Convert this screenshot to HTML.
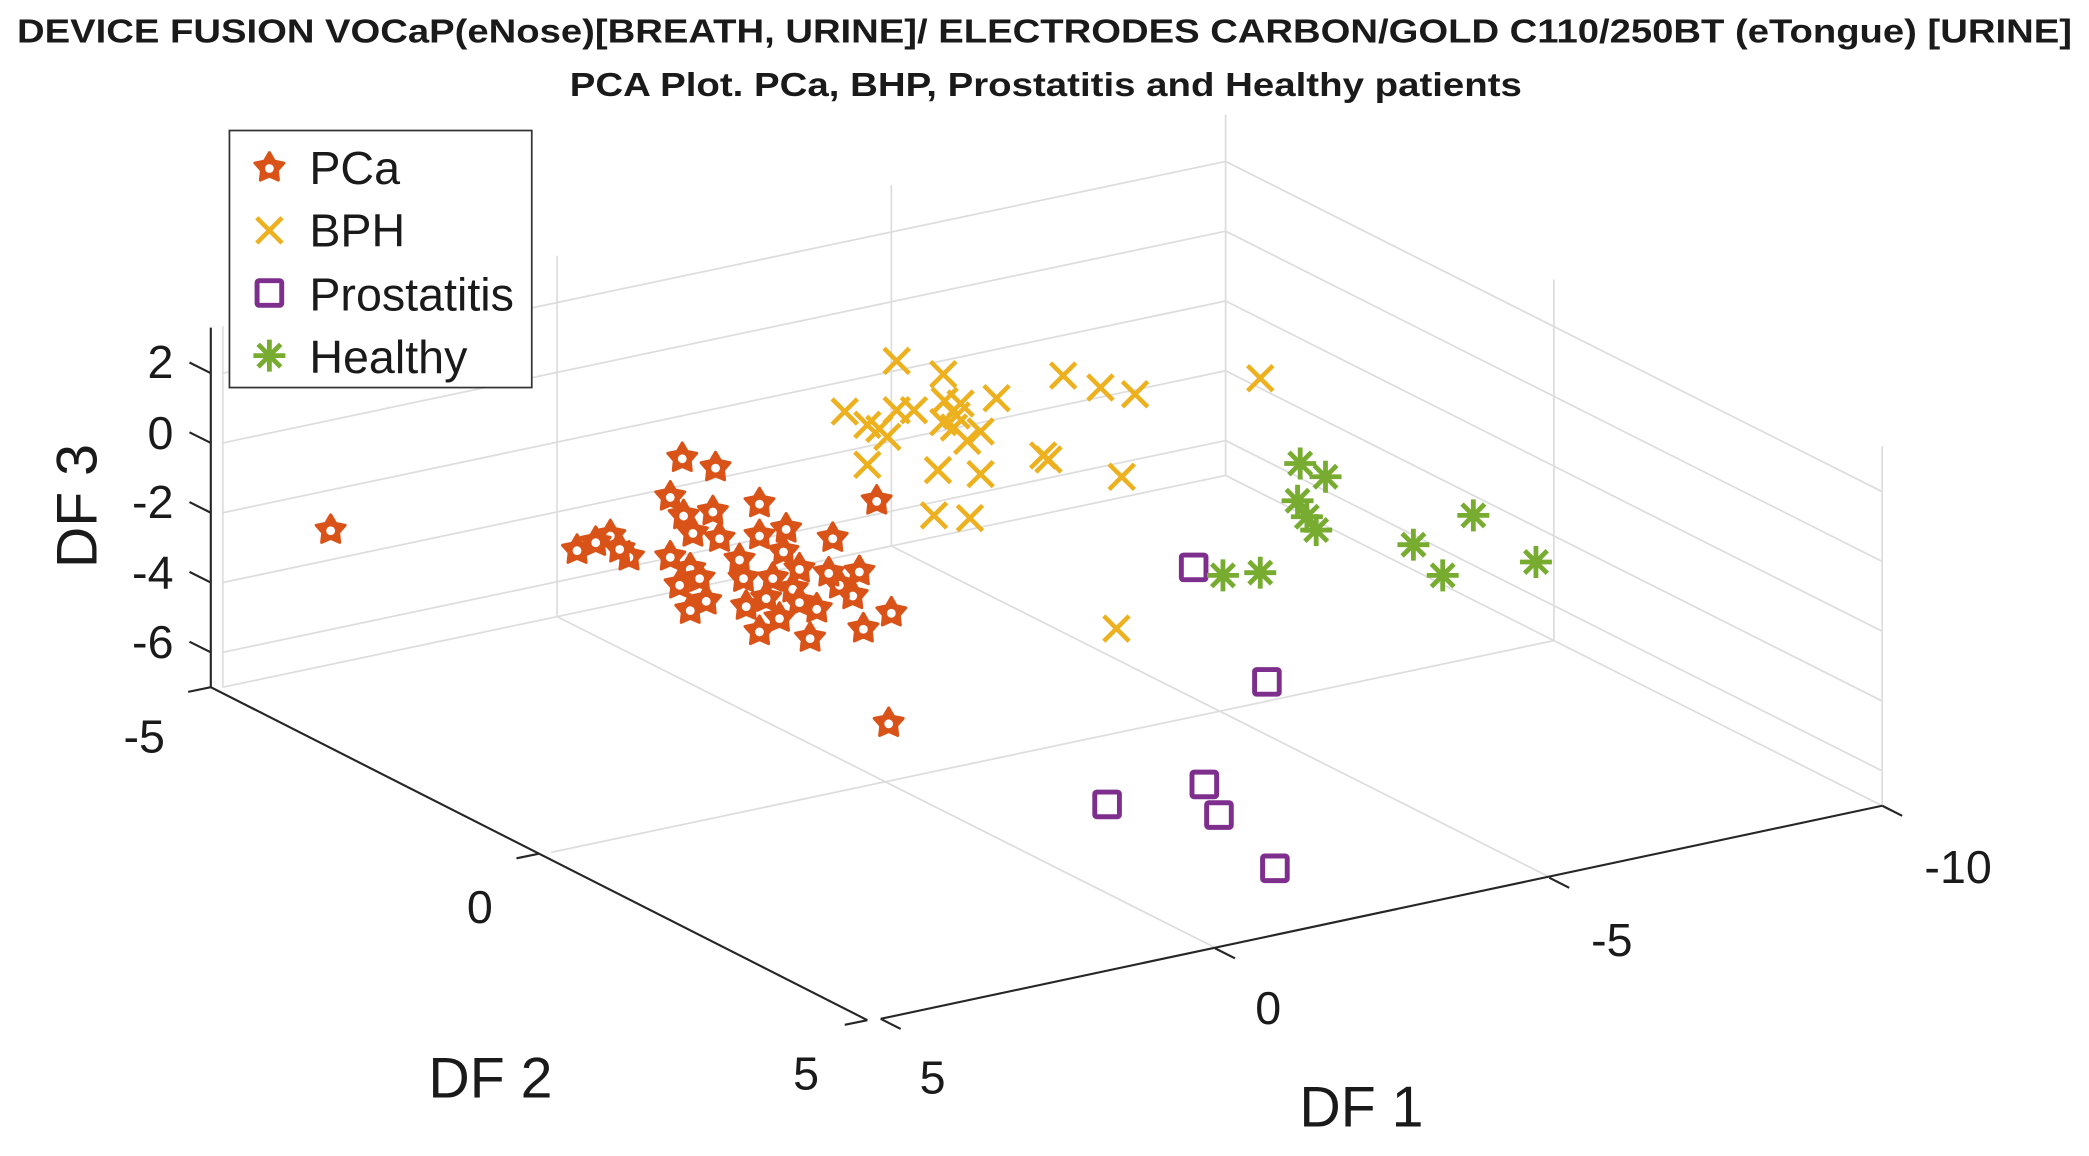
<!DOCTYPE html>
<html><head><meta charset="utf-8"><style>
html,body{margin:0;padding:0;background:#fff;}
svg{display:block;}
text{font-family:"Liberation Sans",Arial,sans-serif;fill:#1a1a1a;}
</style></head><body>
<svg id="s" width="2089" height="1156" viewBox="0 0 1568 868" xmlns="http://www.w3.org/2000/svg">
<rect width="1568" height="868" fill="#fff"/>
<g stroke="#dddddd" stroke-width="1.3" fill="none">
<line x1="167" y1="489.8" x2="920" y2="330.8"/>
<line x1="167" y1="437.4" x2="920" y2="278.4"/>
<line x1="167" y1="385" x2="920" y2="226"/>
<line x1="167" y1="332.6" x2="920" y2="173.6"/>
<line x1="167" y1="280.2" x2="920" y2="121.2"/>
<line x1="167" y1="516" x2="920" y2="357"/>
<line x1="167" y1="516" x2="167" y2="245"/>
<line x1="418" y1="463" x2="418" y2="192"/>
<line x1="669" y1="410" x2="669" y2="139"/>
<line x1="920" y1="357" x2="920" y2="86"/>
<line x1="920" y1="330.8" x2="1413" y2="578.8"/>
<line x1="920" y1="278.4" x2="1413" y2="526.4"/>
<line x1="920" y1="226" x2="1413" y2="474"/>
<line x1="920" y1="173.6" x2="1413" y2="421.6"/>
<line x1="920" y1="121.2" x2="1413" y2="369.2"/>
<line x1="920" y1="357" x2="1413" y2="605"/>
<line x1="1166.5" y1="481" x2="1166.5" y2="210"/>
<line x1="1413" y1="605" x2="1413" y2="335"/>
<line x1="418" y1="463" x2="911" y2="711"/>
<line x1="669" y1="410" x2="1162" y2="658"/>
<line x1="413.5" y1="640" x2="1166.5" y2="481"/>
</g>
<g stroke="#262626" stroke-width="1.6" fill="none">
<line x1="158" y1="246" x2="158" y2="516"/>
<line x1="158" y1="516" x2="651" y2="766"/>
<line x1="661" y1="765" x2="1413" y2="605"/>
<line x1="158" y1="489.8" x2="142" y2="481.8"/>
<line x1="158" y1="437.4" x2="142" y2="429.4"/>
<line x1="158" y1="385" x2="142" y2="377"/>
<line x1="158" y1="332.6" x2="142" y2="324.6"/>
<line x1="158" y1="280.2" x2="142" y2="272.2"/>
<line x1="158" y1="516" x2="141" y2="519.5"/>
<line x1="404.5" y1="641" x2="387.5" y2="644.5"/>
<line x1="651" y1="766" x2="634" y2="769.5"/>
<line x1="661" y1="765" x2="676" y2="772.6"/>
<line x1="912" y1="712" x2="927" y2="719.6"/>
<line x1="1163" y1="659" x2="1178" y2="666.6"/>
<line x1="1413" y1="605" x2="1428" y2="612.6"/>
</g>
<g font-size="35" text-anchor="end">
<text x="130" y="284">2</text>
<text x="130" y="337">0</text>
<text x="130" y="389">-2</text>
<text x="130" y="442">-4</text>
<text x="130" y="494">-6</text>
</g>
<g font-size="35" text-anchor="middle">
<text x="108" y="565">-5</text>
<text x="360" y="693">0</text>
<text x="605" y="818">5</text>
<text x="700" y="821">5</text>
<text x="952" y="769">0</text>
<text x="1210" y="718">-5</text>
<text x="1470" y="663">-10</text>
</g>
<g font-size="43" text-anchor="middle">
<text x="368" y="824">DF 2</text>
<text x="1022" y="846">DF 1</text>
<text transform="translate(72,380) rotate(-90)">DF 3</text>
</g>
<g font-weight="bold" font-size="25" text-anchor="middle">
<text x="784" y="32" textLength="1543" lengthAdjust="spacingAndGlyphs">DEVICE FUSION VOCaP(eNose)[BREATH, URINE]/ ELECTRODES CARBON/GOLD C110/250BT (eTongue) [URINE]</text>
<text x="785" y="72" textLength="715" lengthAdjust="spacingAndGlyphs">PCA Plot. PCa, BHP, Prostatitis and Healthy patients</text>
</g>
<g id="marks"></g>
<rect x="172" y="98" width="227" height="193" fill="#fff" stroke="#333" stroke-width="1.3"/>
<g font-size="35">
<text x="232" y="138">PCa</text>
<text x="232" y="185">BPH</text>
<text x="232" y="233">Prostatitis</text>
<text x="232" y="280">Healthy</text>
</g>
<g id="leg"></g>
</svg>
<script>
var NS="http://www.w3.org/2000/svg";
function el(p,t,a){var e=document.createElementNS(NS,t);for(var k in a)e.setAttribute(k,a[k]);p.appendChild(e);return e;}
function star(g,x,y,r){var pts=[];for(var i=0;i<10;i++){var rr=i%2?r*0.55:r;var a=-Math.PI/2+i*Math.PI/5;pts.push((x+rr*Math.cos(a)).toFixed(1)+","+(y+rr*Math.sin(a)).toFixed(1));}
el(g,"polygon",{points:pts.join(" "),fill:"#D95319",stroke:"#D95319","stroke-width":2.2,"stroke-linejoin":"round"});
el(g,"circle",{cx:x,cy:y+0.5,r:3.3,fill:"#fff"});}
function cross(g,x,y,h){el(g,"path",{d:"M"+(x-h)+","+(y-h)+"L"+(x+h)+","+(y+h)+"M"+(x-h)+","+(y+h)+"L"+(x+h)+","+(y-h),stroke:"#EDB120","stroke-width":3.4,fill:"none"});}
function sq(g,x,y,s){el(g,"rect",{x:x-s/2,y:y-s/2,width:s,height:s,fill:"none",stroke:"#7E2F8E","stroke-width":3.7,rx:1.5});}
function ast(g,x,y,r){var d=r*0.707;el(g,"path",{d:"M"+x+","+(y-r)+"V"+(y+r)+"M"+(x-r)+","+y+"H"+(x+r)+"M"+(x-d)+","+(y-d)+"L"+(x+d)+","+(y+d)+"M"+(x-d)+","+(y+d)+"L"+(x+d)+","+(y-d),stroke:"#77AC30","stroke-width":3.6,fill:"none"});}
var g=document.getElementById("marks");
var P=[[512,344],[537,351],[503,373],[570,378],[658,376],[433,413],[458,402],[472,418],[513,387],[535,384],[540,404],[503,418],[518,427],[570,402],[590,397],[625,404],[588,414],[558,434],[580,434],[600,427],[645,429],[518,458],[530,451],[570,474],[585,464],[608,479],[613,457],[640,447],[648,472],[669,460],[575,449],[595,442],[630,439],[525,434],[510,439],[447,407],[465,412],[520,400],[555,420],[600,452],[622,430],[560,455],[248,398],[667,543]];
P.forEach(function(p){star(g,p[0],p[1],11.5);});
var X=[[673,271],[708,281],[798,282],[826,291],[852,296],[946,284],[634,309],[673,308],[686,308],[709,301],[721,303],[748,299],[651,319],[666,328],[708,317],[716,321],[736,324],[726,331],[651,349],[704,353],[736,356],[783,342],[787,345],[842,358],[701,387],[728,389],[838,472],[660,322],[718,312]];
X.forEach(function(p){cross(g,p[0],p[1],9.5);});
var S=[[896,426],[951,512],[904,589],[915,612],[831,604],[957,652]];
S.forEach(function(p){sq(g,p[0],p[1],18.5);});
var H=[[976,348],[995,358],[974,376],[981,388],[988,398],[918,432],[946,430],[1106,387],[1061,409],[1083,432],[1153,422]];
H.forEach(function(p){ast(g,p[0],p[1],12);});
var l=document.getElementById("leg");
star(l,202,126,11.5);cross(l,202,173,9.5);sq(l,202,220,18.5);ast(l,202,267,12);
</script>
</body></html>
